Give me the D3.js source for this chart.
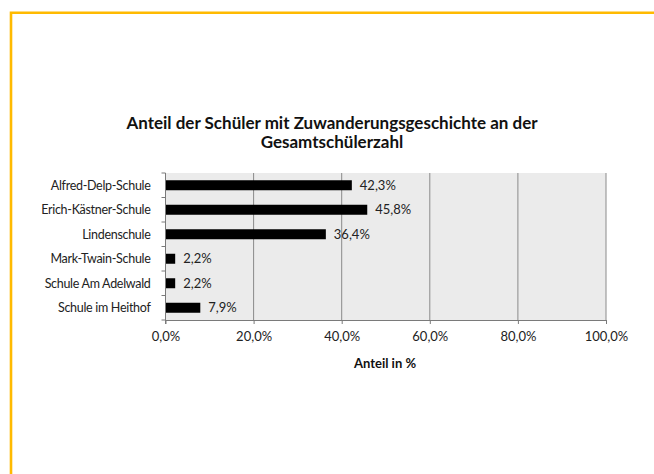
<!DOCTYPE html>
<html><head><meta charset="utf-8">
<script src="https://cdn.jsdelivr.net/npm/d3@7"></script>
<style>body{margin:0;background:#fff}svg{display:block}</style>
</head><body>
<script>
const categories = ["Alfred-Delp-Schule","Erich-Kästner-Schule","Lindenschule","Mark-Twain-Schule","Schule Am Adelwald","Schule im Heithof"];
const values = [42.3, 45.8, 36.4, 2.2, 2.2, 7.9];
const valueLabels = ["42,3%","45,8%","36,4%","2,2%","2,2%","7,9%"];
const xTicks = [0,20,40,60,80,100];
const titleLines = ["Anteil der Schüler mit Zuwanderungsgeschichte an der","Gesamtschülerzahl"];
const xAxisTitle = "Anteil in %";

const W=654,H=474;
const svg=d3.select("body").append("svg").attr("width",W).attr("height",H);
const font="Lato, 'Open Sans', sans-serif";
// frame
svg.append("path").attr("d",`M11,${H} L11,12.8 L${W},12.8`).attr("fill","none").attr("stroke","#FFBA00").attr("stroke-width",2.6);

const x=d3.scaleLinear().domain([0,100]).range([165.5,606]);
const band=d3.scaleBand().domain(categories).range([173,320]);

svg.append("rect").attr("x",x(0)).attr("y",173).attr("width",x(100)-x(0)).attr("height",147).attr("fill","#ebebeb");
// gridlines
svg.selectAll(".grid").data(xTicks.slice(1)).enter().append("line")
 .attr("x1",d=>x(d)).attr("x2",d=>x(d)).attr("y1",173).attr("y2",320)
 .attr("stroke","#8a8a8a").attr("stroke-width",1);

// bars
svg.selectAll(".bar").data(values).enter().append("rect")
 .attr("x",x(0)).attr("y",(d,i)=>band(categories[i])+band.bandwidth()/2-5)
 .attr("width",d=>x(d)-x(0)).attr("height",10).attr("fill","#000");

// value labels
svg.selectAll(".vl").data(values).enter().append("text")
 .attr("x",d=>x(d)+8).attr("y",(d,i)=>band(categories[i])+band.bandwidth()/2+4.5)
 .attr("font-family",font).attr("font-size",13).attr("fill","#222")
 .text((d,i)=>valueLabels[i]);

// x axis
const xAxis=d3.axisBottom(x).tickValues(xTicks).tickSize(4).tickFormat(d=>d.toFixed(1).replace(".",",")+"%");
const gx=svg.append("g").attr("transform","translate(0,320)").call(xAxis);
gx.select(".domain").attr("stroke","#7a7a7a").attr("d",`M${x(0)},0.5H${x(100)}`);
gx.selectAll(".tick line").attr("stroke","#7a7a7a");
gx.selectAll(".tick text").attr("font-family",font).attr("font-size",13).attr("fill","#222").attr("dy","1.1em");

// y axis
const gy=svg.append("g").attr("transform",`translate(${x(0)},0)`);
gy.append("line").attr("x1",0).attr("x2",0).attr("y1",173).attr("y2",324).attr("stroke","#7a7a7a");
const bounds=categories.map(c=>band(c)).concat([320]);
gy.selectAll(".tk").data(bounds).enter().append("line").attr("x1",-4).attr("x2",0)
 .attr("y1",d=>d).attr("y2",d=>d).attr("stroke","#7a7a7a");
gy.selectAll(".cl").data(categories).enter().append("text")
 .attr("x",-15).attr("y",d=>band(d)+band.bandwidth()/2+4.5).attr("text-anchor","end")
 .attr("font-family",font).attr("font-size",12.5).attr("letter-spacing","-0.3px").attr("fill","#222").text(d=>d);

// title
svg.selectAll(".title").data(titleLines).enter().append("text")
 .attr("x",332).attr("y",(d,i)=>128.5+i*19.5).attr("text-anchor","middle")
 .attr("font-family",font).attr("font-weight","bold").attr("font-size",17).attr("fill","#111").text(d=>d);

svg.append("text").attr("x",385).attr("y",368).attr("text-anchor","middle")
 .attr("font-family",font).attr("font-weight","bold").attr("font-size",13).attr("fill","#111").text(xAxisTitle);
</script>
</body></html>
